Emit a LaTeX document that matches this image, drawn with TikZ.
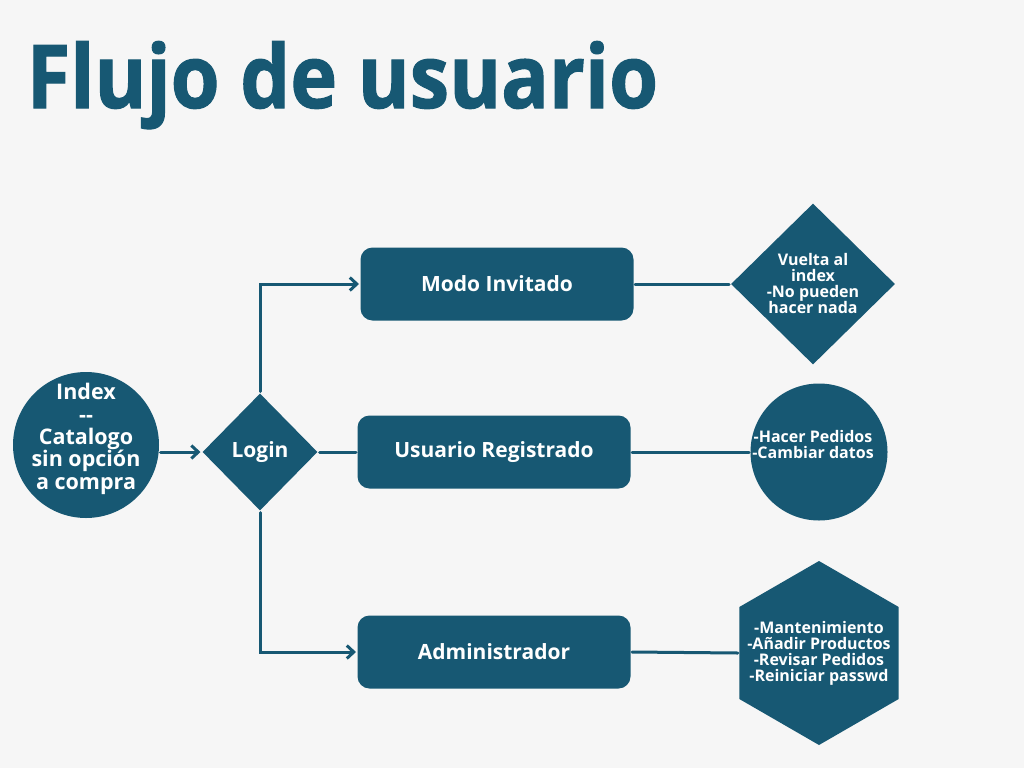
\documentclass[tikz,border=0pt]{standalone}
\usepackage{fontspec}
\setmainfont{Open Sans}
\newfontfamily\titulofont[FakeStretch=0.9,FakeBold=1.2]{Open Sans}
\usetikzlibrary{shapes.geometric,arrows.meta}
\definecolor{azul}{HTML}{175873}
\definecolor{fondo}{HTML}{F6F6F6}

\begin{document}
\begin{tikzpicture}[x=1pt,y=-1pt,>={Straight Barb[length=7pt,width=13pt]},
                    line width=3pt,line cap=round]
  \tikzstyle{every node}=[text=white,font=\bfseries]
  \tikzstyle{texto}=[align=center,inner sep=0pt]
  \tikzstyle{chico}=[texto,font=\fontsize{16}{16}\selectfont\bfseries]
  \tikzstyle{caja}=[rectangle,rounded corners=12pt,fill=azul,minimum width=273pt,
                    minimum height=73pt,font=\fontsize{21}{22}\selectfont\bfseries]
  \tikzstyle{inicio}=[circle,fill=azul,minimum size=146pt,inner sep=0pt]
  \tikzstyle{decision}=[diamond,fill=azul,inner sep=0pt,font=\fontsize{21}{22}\selectfont\bfseries]
  \tikzstyle{hexa}=[regular polygon,regular polygon sides=6,shape border rotate=30,
                    fill=azul,minimum size=184pt,inner sep=0pt]

  \fill[fondo] (0,0) rectangle (1024,768);

  \node[anchor=base west,text=azul,font=\titulofont\fontsize{88}{90}\selectfont\bfseries]
       (titulo) at (22,108) {Flujo de usuario};

  \node[inicio] (index) at (86,445) {};
  \node[texto,font=\fontsize{21.5}{22.3}\selectfont\bfseries] (indextxt) at (86,439)
       {Index\\-{}-\\Catalogo\\sin opción\\a compra};
  \node[decision,minimum width=116pt,minimum height=118pt] (login) at (260,452) {Login};

  \node[caja] (invitado)   at (497,284) {Modo Invitado};
  \node[caja] (registrado) at (494,452) {Usuario Registrado};
  \node[caja] (admin)      at (494,652) {Administrador};

  \node[decision,minimum width=165pt,minimum height=162pt] (vuelta) at (813,284) {};
  \node[chico] (vueltatxt) at (813,283) {Vuelta al\\index\\-No pueden\\hacer nada};
  \node[inicio,minimum size=137pt] (pedidos) at (819,452) {};
  \node[chico] (pedidostxt) at (813,444) {-Hacer Pedidos\\-Cambiar datos};
  \node[hexa] (tareas) at (819,653) {};
  \node[chico] (tareastxt) at (819,653)
       {-Mantenimiento\\-Añadir Productos\\-Revisar Pedidos\\-Reiniciar passwd};

  \draw[->,azul] (index.east |- login.west) -- (login.west);
  \draw[->,azul] (login.north) |- (invitado.west);
  \draw[azul] (login.east) -- (registrado.west);
  \draw[->,azul] (login.south) |- (admin.west);
  \draw[azul] (invitado.east) -- (vuelta.west);
  \draw[azul] (registrado.east) -- (pedidos.west);
  \draw[azul] (admin.east) -- (tareas.west);
\end{tikzpicture}
\end{document}
